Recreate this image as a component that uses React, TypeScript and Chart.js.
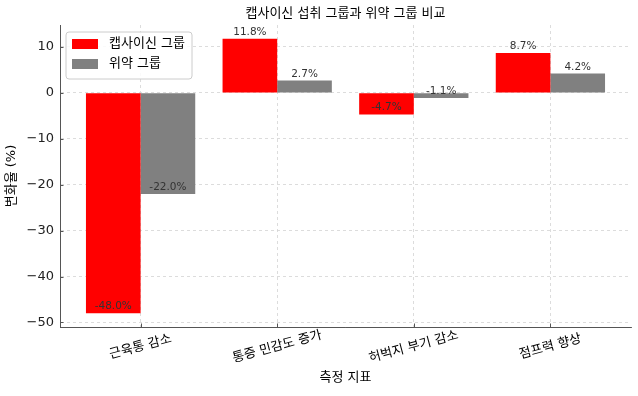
import React, { useEffect, useRef } from "react";
import { Chart, registerables } from "chart.js";

Chart.register(...registerables);

const categories = ["근육통 감소", "통증 민감도 증가", "허벅지 부기 감소", "점프력 향상"];
const capsaicinValues = [-48.0, 11.8, -4.7, 8.7];
const placeboValues = [-22.0, 2.7, -1.1, 4.2];
const seriesNames = ["캡사이신 그룹", "위약 그룹"];
const yTicks = [-50, -40, -30, -20, -10, 0, 10];
const titleText = "캡사이신 섭취 그룹과 위약 그룹 비교";
const xTitle = "측정 지표";
const yTitle = "변화율 (%)";

const FONT = "'DejaVu Sans', 'Noto Sans CJK KR', sans-serif";
const RED = "#ff0000";
const GRAY = "#808080";

export default function App() {
  const ref = useRef<HTMLCanvasElement | null>(null);

  useEffect(() => {
    const canvas = ref.current;
    if (!canvas) return;

    const textPlugin = {
      id: "customText",
      afterDatasetsDraw(chart: any) {
        const ctx = chart.ctx;
        const area = chart.chartArea;
        const xs = chart.scales.x;
        const ys = chart.scales.y;
        ctx.save();
        // inward tick marks
        ctx.strokeStyle = "#555";
        ctx.lineWidth = 1;
        ctx.beginPath();
        yTicks.forEach((v) => {
          const y = Math.round(ys.getPixelForValue(v)) + 0.5;
          ctx.moveTo(area.left, y);
          ctx.lineTo(area.left + 3.5, y);
        });
        categories.forEach((_, i) => {
          const x = Math.round(xs.getPixelForValue(i)) + 0.5;
          ctx.moveTo(x, area.bottom);
          ctx.lineTo(x, area.bottom - 3.5);
        });
        ctx.stroke();
        // value labels
        ctx.font = `10.5px ${FONT}`;
        ctx.fillStyle = "#333";
        ctx.textAlign = "center";
        ctx.textBaseline = "alphabetic";
        chart.data.datasets.forEach((ds: any, di: number) => {
          const meta = chart.getDatasetMeta(di);
          meta.data.forEach((bar: any, i: number) => {
            const v = ds.data[i].y;
            const yp = ys.getPixelForValue(v);
            ctx.fillText(v.toFixed(1) + "%", bar.x, yp - 4);
          });
        });
        // title
        const cx = (area.left + area.right) / 2;
        ctx.fillStyle = "#000";
        ctx.font = `13px ${FONT}`;
        ctx.textBaseline = "middle";
        ctx.fillText(titleText, cx, 14);
        // x title
        ctx.fillText(xTitle, cx, 378);
        // y title
        ctx.save();
        ctx.translate(12, (area.top + area.bottom) / 2);
        ctx.rotate(-Math.PI / 2);
        ctx.fillText(yTitle, 0, 0);
        ctx.restore();
        // x tick labels rotated
        categories.forEach((c, i) => {
          const x = xs.getPixelForValue(i);
          ctx.save();
          ctx.translate(x, 347);
          ctx.rotate((-15 * Math.PI) / 180);
          ctx.fillText(c, 0, 0);
          ctx.restore();
        });
        // legend
        const lx = 66, ly = 32, lw = 126, lh = 47;
        ctx.fillStyle = "rgba(255,255,255,0.85)";
        ctx.strokeStyle = "#cccccc";
        ctx.lineWidth = 1;
        ctx.beginPath();
        const r = 3;
        ctx.moveTo(lx + r, ly);
        ctx.lineTo(lx + lw - r, ly);
        ctx.quadraticCurveTo(lx + lw, ly, lx + lw, ly + r);
        ctx.lineTo(lx + lw, ly + lh - r);
        ctx.quadraticCurveTo(lx + lw, ly + lh, lx + lw - r, ly + lh);
        ctx.lineTo(lx + r, ly + lh);
        ctx.quadraticCurveTo(lx, ly + lh, lx, ly + lh - r);
        ctx.lineTo(lx, ly + r);
        ctx.quadraticCurveTo(lx, ly, lx + r, ly);
        ctx.closePath();
        ctx.fill();
        ctx.stroke();
        const colors = [RED, GRAY];
        seriesNames.forEach((name, i) => {
          const yy = 44 + i * 20;
          ctx.fillStyle = colors[i];
          ctx.fillRect(72, yy - 5, 26, 10);
          ctx.fillStyle = "#000";
          ctx.textAlign = "left";
          ctx.textBaseline = "middle";
          ctx.font = `13px ${FONT}`;
          ctx.fillText(name, 109, yy);
        });
        ctx.restore();
      },
    };

    const chart = new Chart(canvas, {
      type: "bar",
      data: {
        datasets: [
          {
            label: seriesNames[0],
            data: capsaicinValues.map((v, i) => ({ x: i, y: v })),
            backgroundColor: RED,
            categoryPercentage: 0.8,
            barPercentage: 1.0,
          },
          {
            label: seriesNames[1],
            data: placeboValues.map((v, i) => ({ x: i, y: v })),
            backgroundColor: GRAY,
            categoryPercentage: 0.8,
            barPercentage: 1.0,
          },
        ],
      },
      options: {
        animation: false,
        responsive: false,
        maintainAspectRatio: false,
        layout: { padding: { left: 0, right: 7, top: 25, bottom: 0 } },
        plugins: {
          legend: { display: false },
          tooltip: { enabled: false },
          title: { display: false },
        },
        scales: {
          x: {
            type: "linear",
            offset: false,
            min: -0.59,
            max: 3.59,
            afterBuildTicks: (s: any) => {
              s.ticks = categories.map((_, i) => ({ value: i }));
            },
            afterFit: (s: any) => {
              s.height = 69;
            },
            ticks: { display: false },
            grid: {
              offset: false,
              color: "#d3d3d3",
              lineWidth: 0.8,
              drawTicks: false,
            },
            border: { display: true, color: "#555", width: 1, dash: [3, 3] },
          },
          y: {
            type: "linear",
            min: -50.99,
            max: 14.79,
            afterBuildTicks: (s: any) => {
              s.ticks = yTicks.map((v) => ({ value: v }));
            },
            afterFit: (s: any) => {
              s.width = 60;
            },
            ticks: {
              color: "#222",
              font: { family: FONT, size: 13 },
              padding: 6,
              callback: (v: any) => String(v).replace("-", "\u2212"),
            },
            grid: {
              color: "#d3d3d3",
              lineWidth: 0.8,
              drawTicks: false,
            },
            border: { display: true, color: "#555", width: 1, dash: [3, 3] },
          },
        },
      } as any,
      plugins: [textPlugin],
    });

    return () => chart.destroy();
  }, []);

  return (
    <div style={{ position: "fixed", left: 0, top: 0, width: 638, height: 396, background: "#fff" }}>
      <canvas ref={ref} width={638} height={396} style={{ width: 638, height: 396 }} />
    </div>
  );
}
